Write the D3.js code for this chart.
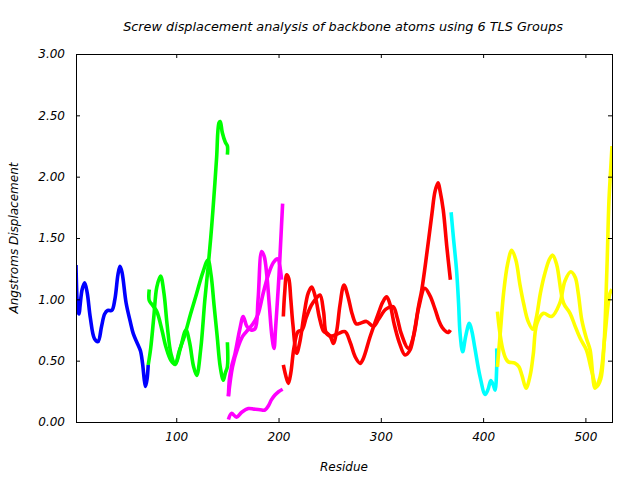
<!DOCTYPE html>
<html><head><meta charset="utf-8">
<script src="https://cdn.jsdelivr.net/npm/d3@7"></script>
<style>
body{margin:0;background:#fff;}
text{font-family:"DejaVu Sans",sans-serif;font-style:italic;}
</style></head>
<body>
<svg id="c" width="640" height="480"></svg>
<script>
const title = "Screw displacement analysis of backbone atoms using 6 TLS Groups";
const xLabel = "Residue";
const yLabel = "Angstroms Displacement";
const xTicks = [100, 200, 300, 400, 500];
const yTicks = [0, 0.5, 1.0, 1.5, 2.0, 2.5, 3.0];

// TLS group 1 (blue)
const blue1 = [[2,1.28],[3,1.0],[4,0.9],[5,0.88],[6,0.95],[8,1.08],[10.5,1.135],[13,1.05],[16,0.85],[20,0.68],[23.5,0.655],[27,0.78],[30,0.88],[33,0.91],[37,0.91],[40,1.0],[43,1.2],[45,1.27],[47,1.22],[51,0.97],[55,0.82],[58,0.72],[62,0.64],[65,0.58],[67,0.48],[69,0.33],[70,0.29],[71.5,0.35],[72.6,0.465]];
// TLS group 2 (green)
const green1 = [[73.6,1.08],[73.6,0.99],[77,0.95],[81,0.9],[86,0.75],[90,0.61],[95,0.5],[99,0.47],[104,0.6],[109.5,0.75],[113,0.65],[117,0.45],[120,0.38],[124,0.6],[128,1.0],[131,1.25],[134.6,1.59],[137.8,1.95],[139.5,2.16],[141.8,2.44],[143,2.45],[145,2.36],[148,2.28],[150,2.25],[150,2.18]];
const green2 = [[72.6,0.465],[75,0.6],[78,0.85],[81,1.1],[84.7,1.19],[88,1.05],[91,0.8],[95,0.55],[99,0.47],[103,0.58],[108,0.7],[114,0.88],[120,1.05],[126,1.22],[131,1.32],[134,1.2],[137,0.95],[140,0.7],[143,0.45],[146,0.34],[148,0.4],[150,0.45],[150,0.65]];
// TLS group 3 (magenta)
const mag1 = [[151,0.02],[154,0.07],[159,0.04],[164,0.08],[170.5,0.11],[176,0.105],[182,0.1],[186.7,0.098],[190,0.13],[193,0.18],[196.5,0.22],[200,0.247],[204,0.267]];
const mag2 = [[151,0.21],[152,0.35],[154,0.45],[157.5,0.56],[162,0.75],[165.5,0.86],[169,0.78],[173,0.75],[177,0.76],[180,1.0],[183.5,1.39],[186,1.35],[188.5,1.2],[191,0.95],[193.5,0.7],[195.6,0.6],[197,0.75],[199,1.0],[200.5,1.2],[202,1.45],[204,1.78]];
const mag3 = [[151,0.21],[155,0.45],[160,0.6],[165,0.7],[170,0.75],[175,0.8],[180,0.88],[185,1.05],[190,1.2],[195,1.3],[199,1.33],[203,1.16]];
// TLS group 4 (red)
const red1 = [[204.7,0.86],[206,1.05],[208,1.2],[210,1.17],[212,1.0],[214,0.8],[217.7,0.56],[221,0.66],[225,0.88],[229,1.05],[232.4,1.1],[236,1.02],[240,0.85],[244,0.74],[248,0.72],[251,0.69],[253.6,0.64],[257,0.75],[260,0.95],[264,1.117],[268,1.02],[272,0.88],[276,0.8],[280,0.805],[286,0.82],[292.7,0.78],[298,0.84],[305,0.92],[312,0.94],[316,0.85],[320,0.72],[327,0.6],[332,0.7],[337,0.93],[343,1.09],[348,1.03],[353,0.92],[357,0.82],[360,0.77],[364,0.735],[366,0.73],[368,0.75]];
const red2 = [[204.7,0.465],[207,0.38],[209.6,0.315],[212,0.4],[215,0.6],[219,0.736],[223,0.75],[227,0.85],[232,0.95],[236,1.0],[240.5,1.035],[244,0.9],[247,0.72],[252,0.7],[258,0.72],[265,0.736],[270,0.65],[275,0.53],[279.7,0.478],[283,0.52],[289.5,0.695],[297.6,0.886],[302,0.98],[305.7,1.02],[309,0.96],[313,0.8],[318,0.65],[323.7,0.546],[328.6,0.587],[333,0.75],[337,0.95],[340,1.076],[345,1.375],[350,1.7],[353,1.88],[356,1.95],[358,1.88],[361,1.73],[364.5,1.43],[368,1.16]];
// TLS group 5 (cyan)
const cyan1 = [[368.7,1.71],[371,1.5],[374,1.24],[376,0.97],[377.5,0.72],[380,0.573],[383,0.7],[386.5,0.805],[389,0.74],[392,0.6],[397,0.37],[402,0.225],[405,0.27],[407.5,0.337],[410,0.3],[411.7,0.26],[413.3,0.45],[413.3,0.6]];
// TLS group 6 (yellow)
const yellow1 = [[414,0.9],[416,0.75],[419,0.6],[422,0.52],[424.7,0.49],[431,0.48],[435,0.45],[438,0.38],[442,0.275],[446,0.38],[449,0.55],[452.5,0.8],[459,0.886],[467,0.86],[475,0.97],[480,1.15],[485.7,1.225],[490,1.18],[493,1.05],[496.5,0.83],[501,0.68],[504.6,0.587],[509.5,0.275],[514.4,0.37],[519,0.695],[524,1.05],[526,1.08]];
const yellow2 = [[414,0.45],[417,0.75],[420,1.05],[424,1.29],[428,1.4],[432,1.32],[436,1.12],[439.5,0.97],[444,0.82],[448.6,0.756],[452,0.85],[456,1.05],[460,1.2],[465,1.33],[468,1.36],[472,1.28],[478.6,0.97],[485,0.886],[490,0.78],[495,0.68],[501,0.587],[506,0.42],[511,0.288],[515,0.35],[518,0.6],[521,1.24],[523,1.8],[524.5,2.03],[526,2.25]];

const seriesList = [
  {data: blue1, color: "#0000ff"},
  {data: green1, color: "#00ff00"},
  {data: green2, color: "#00ff00"},
  {data: mag1, color: "#ff00ff"},
  {data: mag2, color: "#ff00ff"},
  {data: mag3, color: "#ff00ff"},
  {data: red1, color: "#ff0000"},
  {data: red2, color: "#ff0000"},
  {data: cyan1, color: "#00ffff"},
  {data: yellow1, color: "#ffff00"},
  {data: yellow2, color: "#ffff00"}
];

const L = 76, R = 612, T = 54, B = 422;
const x = d3.scaleLinear().domain([2, 526]).range([L, R]);
const y = d3.scaleLinear().domain([0, 3]).range([B, T]);
const svg = d3.select("#c");

svg.append("clipPath").attr("id","pc").append("rect")
  .attr("x", L).attr("y", T).attr("width", R - L).attr("height", B - T);

const line = d3.line().x(d => x(d[0])).y(d => y(d[1])).curve(d3.curveCatmullRom.alpha(0.5));
const g = svg.append("g").attr("clip-path","url(#pc)");
seriesList.forEach(s => {
  g.append("path").attr("d", line(s.data)).attr("fill","none")
    .attr("stroke", s.color).attr("stroke-width", 3.6).attr("stroke-linejoin","round");
});

// axes
const fmtY = d3.format(".2f");
const axB = svg.append("g").attr("transform",`translate(0,${B})`)
  .call(d3.axisBottom(x).tickValues(xTicks).tickSize(-4).tickPadding(10).tickFormat(d3.format("d")));
const axT = svg.append("g").attr("transform",`translate(0,${T})`)
  .call(d3.axisTop(x).tickValues(xTicks).tickSize(-4).tickFormat(""));
const axL = svg.append("g").attr("transform",`translate(${L},0)`)
  .call(d3.axisLeft(y).tickValues(yTicks).tickSize(-4).tickPadding(11).tickFormat(fmtY));
const axR = svg.append("g").attr("transform",`translate(${R},0)`)
  .call(d3.axisRight(y).tickValues(yTicks).tickSize(-4).tickFormat(""));
[axB, axT, axL, axR].forEach(a => {
  a.select(".domain").remove();
  a.selectAll("line").attr("stroke","#000");
  a.selectAll("text").attr("font-family","DejaVu Sans").attr("font-style","italic").attr("font-size",12).attr("fill","#000");
});
svg.append("rect").attr("x", L).attr("y", T).attr("width", R - L).attr("height", B - T)
  .attr("fill","none").attr("stroke","#000").attr("stroke-width",1).attr("shape-rendering","crispEdges");

svg.append("text").attr("x", 343).attr("y", 31).attr("text-anchor","middle").attr("font-size",12.8).text(title);
svg.append("text").attr("x", 344).attr("y", 471).attr("text-anchor","middle").attr("font-size",12).text(xLabel);
svg.append("text").attr("transform","translate(18,238) rotate(-90)").attr("text-anchor","middle").attr("font-size",12).text(yLabel);
</script>
</body></html>
